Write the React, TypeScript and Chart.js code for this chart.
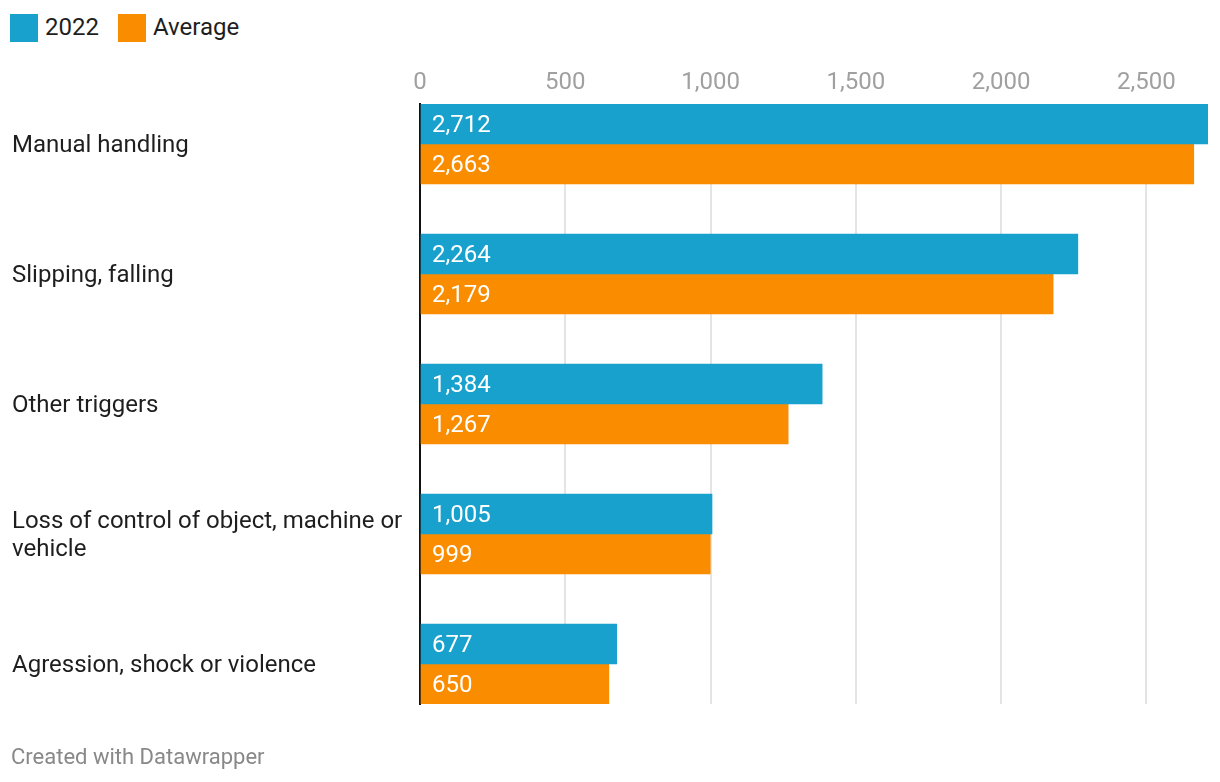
import React, { useEffect, useRef } from "react";
import { Chart, registerables } from "chart.js";

Chart.register(...registerables);

const categories: (string | string[])[] = [
  "Manual handling",
  "Slipping, falling",
  "Other triggers",
  ["Loss of control of object, machine or", "vehicle"],
  "Agression, shock or violence",
];
const values2022 = [2712, 2264, 1384, 1005, 677];
const valuesAverage = [2663, 2179, 1267, 999, 650];
const seriesNames = ["2022", "Average"];
const seriesColors = ["#18a1cd", "#fa8c00"];
const xTicks = [0, 500, 1000, 1500, 2000, 2500];
const xMax = 2712;

const FONT = "Roboto, 'Noto Sans', sans-serif";

const fmt = (v: number) => v.toLocaleString("en-US");

const valueLabels = {
  id: "valueLabels",
  afterDatasetsDraw(chart: any) {
    const ctx = chart.ctx;
    ctx.save();
    ctx.font = `24px ${FONT}`;
    ctx.fillStyle = "#ffffff";
    ctx.textAlign = "left";
    ctx.textBaseline = "middle";
    chart.data.datasets.forEach((ds: any, i: number) => {
      const meta = chart.getDatasetMeta(i);
      meta.data.forEach((el: any, j: number) => {
        const v = ds.data[j].x;
        ctx.fillText(fmt(v), el.base + 11, el.y + 2);
      });
    });
    ctx.restore();
  },
};

export default function App() {
  const ref = useRef<HTMLCanvasElement>(null);
  useEffect(() => {
    document.body.style.margin = "0";
    const mk = (vals: number[]) => vals.map((v, i) => ({ x: v, y: i }));
    const chart = new Chart(ref.current!, {
      type: "bar",
      data: {
        datasets: [
          {
            label: seriesNames[0],
            data: mk(values2022),
            backgroundColor: seriesColors[0],
            barThickness: 40,
            borderWidth: 0,
          },
          {
            label: seriesNames[1],
            data: mk(valuesAverage),
            backgroundColor: seriesColors[1],
            barThickness: 40,
            borderWidth: 0,
          },
        ],
      },
      options: {
        indexAxis: "y",
        animation: false,
        responsive: false,
        devicePixelRatio: 1,
        layout: { padding: { left: 12, right: 12, top: 64, bottom: 78 } },
        plugins: {
          legend: { display: false },
          tooltip: { enabled: false },
        },
        scales: {
          x: {
            type: "linear",
            position: "top",
            min: 0,
            max: xMax,
            afterBuildTicks: (s: any) => {
              s.ticks = xTicks.map((v) => ({ value: v }));
            },
            afterFit: (s: any) => {
              s.height = 40;
            },
            ticks: {
              padding: 7,
              color: "#a0a0a0",
              font: { family: FONT, size: 24 },
              callback: (v: any) => fmt(Number(v)),
              maxRotation: 0,
            },
            grid: { color: "#e4e4e4", lineWidth: 2, drawTicks: false },
            border: { display: false },
          },
          y: {
            type: "linear",
            reverse: true,
            offset: false,
            min: -40 / 130,
            max: 4 + 40 / 130,
            z: 1,
            afterBuildTicks: (s: any) => {
              s.ticks = categories.map((_, i) => ({ value: i }));
            },
            afterFit: (s: any) => {
              s.width = 408;
            },
            ticks: {
              crossAlign: "far",
              autoSkip: false,
              labelOffset: 2,
              color: "#1e1e1e",
              font: { family: FONT, size: 24, lineHeight: 28 / 24 },
              callback: (v: any) => categories[Number(v)] as any,
            },
            grid: { display: false },
            border: { display: true, color: "#111111", width: 2 },
          },
        },
      },
      plugins: [valueLabels],
    } as any);
    return () => chart.destroy();
  }, []);

  const legendItem = (i: number, left: number) => (
    <div
      key={i}
      style={{
        position: "absolute",
        left,
        top: 14,
        height: 28,
        display: "flex",
        alignItems: "center",
      }}
    >
      <div style={{ width: 28, height: 28, background: seriesColors[i] }} />
      <span
        style={{
          marginLeft: 7,
          fontFamily: FONT,
          fontSize: 24,
          color: "#1e1e1e",
          lineHeight: "28px",
          position: "relative",
          top: -1,
        }}
      >
        {seriesNames[i]}
      </span>
    </div>
  );

  return (
    <div style={{ position: "absolute", left: 0, top: 0, width: 1220, height: 782, background: "#fff" }}>
      {legendItem(0, 10)}
      {legendItem(1, 118)}
      <canvas ref={ref} width={1220} height={782} style={{ position: "absolute", left: 0, top: 0 }} />
      <div
        style={{
          position: "absolute",
          left: 11,
          top: 743,
          fontFamily: FONT,
          fontSize: 22,
          color: "#888888",
          lineHeight: "28px",
        }}
      >
        Created with Datawrapper
      </div>
    </div>
  );
}
